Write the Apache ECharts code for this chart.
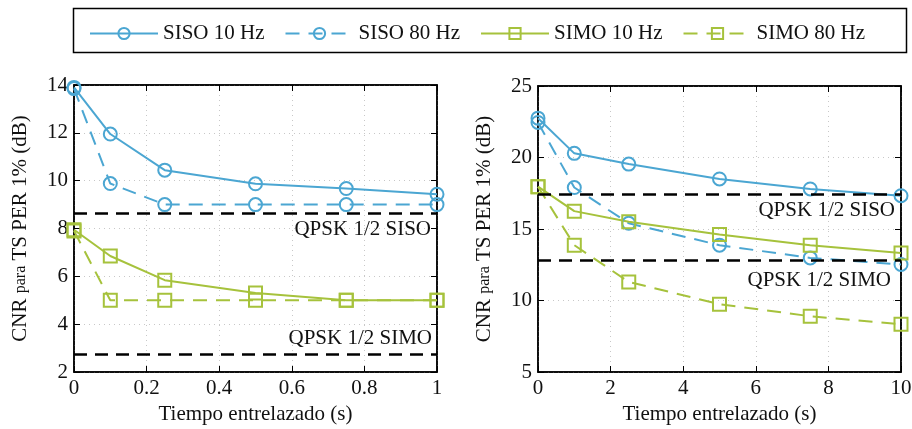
<!DOCTYPE html>
<html>
<head>
<meta charset="utf-8">
<script src="https://cdn.jsdelivr.net/npm/echarts@6/dist/echarts.min.js"></script>
<style>html,body{margin:0;padding:0;background:#fff}#c{width:912px;height:429px}</style>
</head>
<body>
<div id="c"></div>
<script>
// ---- data ----
const xLeft = [0, 0.1, 0.25, 0.5, 0.75, 1];
const xRight = [0, 1, 2.5, 5, 7.5, 10];
const leftSiso10 = [13.9, 11.95, 10.44, 9.87, 9.67, 9.43];
const leftSiso80 = [13.85, 9.88, 9.0, 9.0, 9.0, 9.0];
const leftSimo10 = [7.95, 6.85, 5.84, 5.3, 5.0, 5.0];
const leftSimo80 = [7.9, 5.0, 5.0, 5.0, 5.0, 5.0];
const rightSiso10 = [22.75, 20.29, 19.54, 18.5, 17.8, 17.33];
const rightSiso80 = [22.45, 17.9, 15.4, 13.87, 12.98, 12.52];
const rightSimo10 = [17.96, 16.25, 15.5, 14.62, 13.87, 13.33];
const rightSimo80 = [17.96, 13.87, 11.3, 9.74, 8.9, 8.34];
const leftThreshSiso = 8.63, leftThreshSimo = 2.75;
const rightThreshSiso = 17.44, rightThreshSimo = 12.8;
const seriesNames = ['SISO 10 Hz', 'SISO 80 Hz', 'SIMO 10 Hz', 'SIMO 80 Hz'];
const threshLabels = ['QPSK 1/2 SISO', 'QPSK 1/2 SIMO'];
const xName = 'Tiempo entrelazado (s)';

const BLUE = '#4ba6d2', GREEN = '#a6c23c';
const FONT = "'Liberation Serif', 'DejaVu Serif', serif";
const FS = 21;

const chart = echarts.init(document.getElementById('c'), null, {renderer: 'canvas'});

function pairs(xs, ys) { return xs.map((x, i) => [x, ys[i]]); }

function mkSeries(name, xs, ys, idx, color, dashed, symbol, size) {
  return {
    name: name, type: 'line', xAxisIndex: idx, yAxisIndex: idx,
    data: pairs(xs, ys),
    symbol: symbol, symbolSize: size,
    showAllSymbol: true,
    lineStyle: {color: color, width: 2, type: dashed ? [14, 9] : 'solid'},
    itemStyle: {color: 'rgba(255,255,255,0)', borderColor: color, borderWidth: 2},
    emphasis: {disabled: true},
    z: 3
  };
}

function lbl(text, pos, dist) {
  return {show: true, position: pos, formatter: text, distance: dist,
          color: '#111', fontFamily: FONT, fontSize: FS};
}

function threshSeries(idx, vSiso, vSimo, posSiso, posSimo) {
  return {
    type: 'line', xAxisIndex: idx, yAxisIndex: idx, data: [],
    silent: true,
    markLine: {
      silent: true, symbol: 'none', animation: false,
      lineStyle: {color: '#000', width: 2.5, type: [13, 8]},
      data: [
        {yAxis: vSiso, label: lbl(threshLabels[0], posSiso[0], posSiso[1])},
        {yAxis: vSimo, label: lbl(threshLabels[1], posSimo[0], posSimo[1])}
      ]
    },
    z: 2
  };
}

const lblStyle = {color: '#111', fontFamily: FONT, fontSize: FS};
const tick = {show: true, inside: true, length: 6, lineStyle: {color: '#000', width: 1}};
const aLine = {show: true, onZero: false, lineStyle: {color: '#000', width: 1.5}};
const split = {show: true, lineStyle: {color: '#c8c8c8', type: [1, 4], width: 1}};

function yAxisCfg(idx, min, max, interval) {
  return {
    type: 'value', gridIndex: idx, min: min, max: max, interval: interval,
    axisLine: aLine, axisTick: tick, splitLine: split,
    name: '{a|CNR }{b|para}{a| TS PER 1% (dB)}',
    nameLocation: 'middle', nameGap: 43, nameRotate: 90,
    nameTextStyle: {color: '#111', fontFamily: FONT, fontSize: FS,
      rich: {a: {fontFamily: FONT, fontSize: FS, color: '#111'}, b: {fontFamily: FONT, fontSize: 16, color: '#111'}}},
    axisLabel: Object.assign({margin: 6}, lblStyle)
  };
}
function yAxisMirror(idx, min, max, interval) {
  return {
    type: 'value', gridIndex: idx, min: min, max: max, interval: interval, position: 'right',
    axisLine: aLine, axisTick: tick, axisLabel: {show: false}, splitLine: {show: false}
  };
}
function xAxisCfg(idx, min, max, interval) {
  return {
    type: 'value', gridIndex: idx, min: min, max: max, interval: interval,
    axisLine: aLine, axisTick: tick, splitLine: split,
    name: xName, nameLocation: 'middle', nameGap: 32,
    nameTextStyle: lblStyle,
    axisLabel: Object.assign({margin: 6}, lblStyle)
  };
}
function xAxisMirror(idx, min, max, interval) {
  return {
    type: 'value', gridIndex: idx, min: min, max: max, interval: interval, position: 'top',
    axisLine: aLine, axisTick: tick, axisLabel: {show: false}, splitLine: {show: false}
  };
}

const option = {
  animation: false,
  backgroundColor: '#fff',
  textStyle: {fontFamily: FONT},
  graphic: [
    {type: 'rect', shape: {x: 73.5, y: 8.5, width: 833, height: 44},
     style: {fill: 'none', stroke: '#000', lineWidth: 1.5}, silent: true, z: 10}
  ],
  legend: {
    top: 18, left: 84,
    itemWidth: 68, itemHeight: 14, itemGap: 20,
    data: seriesNames,
    textStyle: {color: '#111', fontFamily: FONT, fontSize: FS, width: 106},
    selectedMode: false
  },
  grid: [
    {left: 74, right: 475, top: 85, bottom: 57, outerBoundsMode: 'none', containLabel: false,
     show: true, borderColor: '#000', borderWidth: 1.5, backgroundColor: 'transparent'},
    {left: 538, right: 11, top: 86, bottom: 57, outerBoundsMode: 'none', containLabel: false,
     show: true, borderColor: '#000', borderWidth: 1.5, backgroundColor: 'transparent'}
  ],
  xAxis: [xAxisCfg(0, 0, 1, 0.2), xAxisCfg(1, 0, 10, 2), xAxisMirror(0, 0, 1, 0.2), xAxisMirror(1, 0, 10, 2)],
  yAxis: [yAxisCfg(0, 2, 14, 2), yAxisCfg(1, 5, 25, 5), yAxisMirror(0, 2, 14, 2), yAxisMirror(1, 5, 25, 5)],
  series: [
    threshSeries(0, leftThreshSiso, leftThreshSimo, ['insideEndBottom', 6], ['insideEndTop', 5]),
    threshSeries(1, rightThreshSiso, rightThreshSimo, ['insideEndBottom', 6], ['insideEndBottom', 10]),
    mkSeries(seriesNames[0], xLeft, leftSiso10, 0, BLUE, false, 'circle', 13),
    mkSeries(seriesNames[1], xLeft, leftSiso80, 0, BLUE, true, 'circle', 13),
    mkSeries(seriesNames[2], xLeft, leftSimo10, 0, GREEN, false, 'rect', 13),
    mkSeries(seriesNames[3], xLeft, leftSimo80, 0, GREEN, true, 'rect', 13),
    mkSeries(seriesNames[0], xRight, rightSiso10, 1, BLUE, false, 'circle', 13),
    mkSeries(seriesNames[1], xRight, rightSiso80, 1, BLUE, true, 'circle', 13),
    mkSeries(seriesNames[2], xRight, rightSimo10, 1, GREEN, false, 'rect', 13),
    mkSeries(seriesNames[3], xRight, rightSimo80, 1, GREEN, true, 'rect', 13)
  ]
};
chart.setOption(option);
</script>
</body>
</html>
